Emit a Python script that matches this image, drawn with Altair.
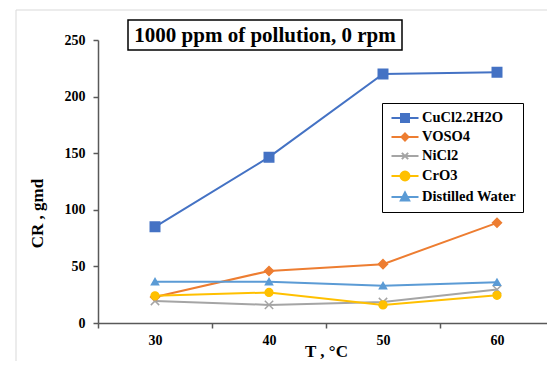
import altair as alt
import pandas as pd

# ---- data ----
temps = [30, 40, 50, 60]
series = ["CuCl2.2H2O", "VOSO4", "NiCl2", "CrO3", "Distilled Water"]
cucl2 = [85, 146.5, 220, 221.5]
voso4 = [23, 46, 52, 88.5]
nicl2 = [19.5, 16, 18.5, 29.5]
cro3 = [24, 27, 16, 24.5]
water = [36.5, 36.5, 33, 36]
title_text = "1000 ppm of pollution, 0 rpm"
x_title = "T , °C"
y_title = "CR , gmd"
y_ticks = [0, 50, 100, 150, 200, 250]

rows = []
for s, vals in zip(series, [cucl2, voso4, nicl2, cro3, water]):
    for t, v in zip(temps, vals):
        rows.append({"T": t, "series": s, "CR": v})
df = pd.DataFrame(rows)

# ---- styles ----
FONT = "Liberation Serif, Times New Roman, serif"
AX = "#595959"
colors = ["#4472C4", "#ED7D31", "#A5A5A5", "#FFC000", "#5B9BD5"]
shapes = ["square", "diamond", "M-1,-1L1,1M-1,1L1,-1", "circle", "triangle-up"]
sizes = [90, 50, 50, 120, 90]
LINE = "M-1.93,0H1.93"
legend_shapes = [
    LINE + "M-0.57,-0.57H0.57V0.57H-0.57Z",
    LINE + "M0,-0.5L0.5,0L0,0.5L-0.5,0Z",
    LINE + "M-0.45,-0.45L0.45,0.45M-0.45,0.45L0.45,-0.45",
    LINE + "M-0.64,0A0.64,0.64 0 1,0 0.64,0A0.64,0.64 0 1,0 -0.64,0Z",
    LINE + "M0,-0.64L0.6,0.5L-0.6,0.5Z",
]

x_enc = alt.X(
    "T:O",
    scale=alt.Scale(type="band", paddingInner=0, paddingOuter=0, range=[0, 456]),
    axis=alt.Axis(
        title=x_title, tickBand="extent", labelAngle=0,
        labelFont=FONT, labelFontSize=14, labelFontWeight="bold", labelColor="black",
        titleFont=FONT, titleFontSize=17, titleFontWeight="bold", titleColor="black",
        titleX=228, titleY=33, titleBaseline="alphabetic",
        domainColor=AX, domainWidth=1.5, tickColor=AX, tickWidth=1.5, tickSize=5,
        labelPadding=5, grid=False,
    ),
)
y_enc = alt.Y(
    "CR:Q",
    scale=alt.Scale(domain=[0, 250], nice=False),
    axis=alt.Axis(
        title=y_title, values=y_ticks,
        labelFont=FONT, labelFontSize=14, labelFontWeight="bold", labelColor="black",
        titleFont=FONT, titleFontSize=17, titleFontWeight="bold", titleColor="black",
        titleAngle=270, titleX=-61, titleY=173, titleBaseline="middle", titleAlign="center",
        domainColor=AX, domainWidth=1.5, tickColor=AX, tickWidth=1.5, tickSize=5,
        labelPadding=8, grid=False,
    ),
)

frame_df = pd.DataFrame({"label": [title_text]})

outer = alt.Chart(frame_df).mark_rect(fillOpacity=0, stroke="#d9d9d9", strokeWidth=1).encode(
    x=alt.value(-82), x2=alt.value(520), y=alt.value(-30), y2=alt.value(400)
)

lines = alt.Chart(df).mark_line(strokeWidth=2).encode(
    x=x_enc, y=y_enc,
    color=alt.Color("series:N", scale=alt.Scale(domain=series, range=colors), legend=None),
    detail="series:N",
)

points = alt.Chart(df).mark_point(opacity=1, strokeWidth=1.5).encode(
    x=x_enc, y=y_enc,
    fill=alt.Fill("series:N", scale=alt.Scale(domain=series, range=colors), legend=None),
    stroke=alt.Stroke("series:N", scale=alt.Scale(domain=series, range=colors), legend=None),
    shape=alt.Shape("series:N", scale=alt.Scale(domain=series, range=shapes), legend=None),
    size=alt.Size("series:N", scale=alt.Scale(domain=series, range=sizes), legend=None),
)

leg = alt.Legend(
    title=None, orient="none", legendX=284, legendY=63,
    strokeColor="black", fillColor="white", padding=7,
    labelFont=FONT, labelFontSize=14.5, labelFontWeight="bold", labelColor="black",
    symbolSize=196, symbolStrokeWidth=2, symbolOpacity=1, symbolOffset=8,
    labelOffset=9, rowPadding=3,
)
legend_layer = alt.Chart(df).mark_point(opacity=1, strokeWidth=2).encode(
    x=alt.value(-2000), y=alt.value(-2000),
    fill=alt.Fill("series:N", scale=alt.Scale(domain=series, range=colors), legend=leg),
    stroke=alt.Stroke("series:N", scale=alt.Scale(domain=series, range=colors), legend=leg),
    shape=alt.Shape("series:N", scale=alt.Scale(domain=series, range=legend_shapes), legend=leg),
)

title_box = alt.Chart(frame_df).mark_rect(fill="white", stroke="black", strokeWidth=1.5).encode(
    x=alt.value(30), x2=alt.value(304), y=alt.value(-20), y2=alt.value(10)
)
title_txt = alt.Chart(frame_df).mark_text(
    font=FONT, fontSize=21, fontWeight="bold", color="black", baseline="middle"
).encode(x=alt.value(167), y=alt.value(-4), text="label:N")

chart = alt.layer(outer, lines, points, legend_layer, title_box, title_txt).resolve_scale(
    shape="independent", fill="independent", stroke="independent"
).properties(
    width=449, height=283,
    autosize=alt.AutoSizeParams(type="none"),
    padding={"left": 90, "top": 32, "right": 0, "bottom": 38},
).configure_view(stroke=None).configure_axis(
    labelFont=FONT, titleFont=FONT
).configure_legend(labelFont=FONT)

chart.save("out.html", embed_options={"renderer": "svg", "actions": False})
